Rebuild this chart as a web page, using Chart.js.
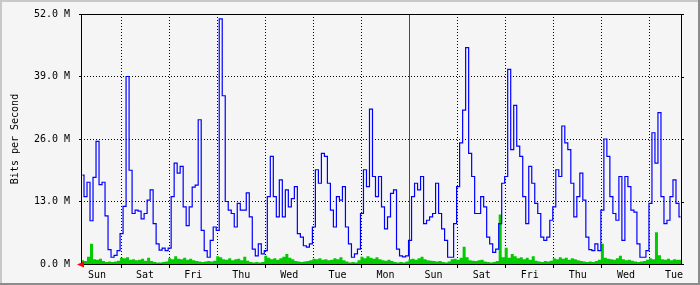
<!DOCTYPE html>
<html>
<head>
<meta charset="utf-8">
<title>Bits per Second</title>
<script src="https://cdn.jsdelivr.net/npm/chart.js@4.4.0/dist/chart.umd.min.js"></script>
<style>
  html, body { margin: 0; padding: 0; background: #f5f5f5; }
  #wrap { width: 700px; height: 285px; }
</style>
</head>
<body>
<div id="wrap"><canvas id="chart" width="700" height="285"></canvas></div>
<script>
// 30 min samples, newest on the left (mrtg weekly style), one value per 3 half-hours
const dayNames = ['Sun', 'Sat', 'Fri', 'Thu', 'Wed', 'Tue', 'Mon', 'Sun', 'Sat', 'Fri', 'Thu', 'Wed', 'Tue'];
const yTicks = [0, 13, 26, 39, 52];

// outgoing (blue), in M bits/s
const outBits = [
  18.5, 14, 17, 9, 18, 25.5, 16.5, 17, 10, 3,
  1.4, 1.8, 2.8, 6.3, 12, 39, 19.5, 10.5, 11.2, 11,
  9.4, 10.5, 13.3, 15.4, 8.4, 4.2, 2.9, 3.3, 2.8, 3.3,
  14, 21, 18.9, 20.3,
  11.9, 8, 11.9, 16, 16.4, 30, 7, 2.8, 1.4, 4.9,
  7.7, 7, 51, 35, 13, 11.2, 10.5, 7.7, 12.6, 11.2,
  11.2, 14.8, 9.8, 3.1, 1.7, 4.2, 2.1, 2.8, 14, 22.4,
  14, 9.8, 17.5,
  9.8, 15.4, 11.9, 13.6, 16.1, 6.3, 5.6, 3.8, 3.5, 4.2,
  7.7, 19.6, 16.8, 23, 22.4, 16.8, 11.2, 7.7, 14, 13.3,
  16.1, 7.7, 4.2, 1.4, 2.1, 3.1, 10.5, 19.6, 16.1, 32.2,
  18.2, 14, 18.2, 11.9,
  7.3, 9.8, 14.7, 15.4, 3.1, 1.7, 1.5, 1.7, 4.9, 14,
  16.8, 15.4, 18.2, 8.4, 9.1, 9.8, 10.5, 16.8, 10.5, 7.3,
  4.9, 1.4, 1.4, 8.4, 16.1, 25.2, 32, 45, 23, 18.2,
  10.5, 10.5, 14,
  11.9, 5.6, 4.2, 2.4, 3.1, 8.4, 16.8, 18.2, 40.5, 23.8,
  33, 24.5, 22.4, 14, 8.4, 20.3, 16.8, 12.6, 10.5, 5.6,
  4.9, 5.6, 9.1, 11.9, 19.6, 18.2, 28.7, 25.2, 23.8, 16.8,
  9.8, 14, 18.9,
  13.3, 5.6, 3, 2.8, 4.2, 2.8, 11.2, 26, 22.4, 14,
  10.5, 9.1, 18.2, 4.9, 18.2, 16.1, 11.2, 10.8, 4.2, 1.4,
  1.4, 2.8, 12.6, 27.3, 21, 31.5, 14, 8.4, 9.1, 14,
  17.5, 12.6, 9.8
];

// incoming (green), in M bits/s
const inBits = [
  2.0, 0.8, 0.6, 1.5, 4.2, 1.0, 0.9, 1.1, 0.6, 0.4,
  0.5, 0.4, 0.5, 0.7, 1.3, 1.2, 1.4, 0.9, 1.0, 0.8,
  0.9, 1.1, 0.7, 1.3, 0.6, 0.4, 0.3, 0.3, 0.4, 0.5,
  1.2, 1.0, 1.6, 1.1,
  1.0, 1.3, 0.9, 1.1, 0.8, 0.6, 0.5, 0.4, 0.5, 0.6,
  0.5, 0.7, 1.6, 1.4, 1.0, 0.9, 1.2, 0.8, 1.0, 1.1,
  0.8, 1.5, 0.7, 0.4, 0.3, 0.4, 0.3, 0.4, 1.7, 1.3,
  1.0, 1.2, 0.9,
  1.2, 1.5, 2.1, 1.3, 1.0, 0.6, 0.5, 0.4, 0.5, 0.6,
  0.8, 1.1, 1.0, 1.2, 0.9, 1.0, 0.8, 0.9, 1.2, 1.0,
  1.4, 0.8, 0.5, 0.3, 0.4, 0.3, 0.8, 1.5, 1.2, 1.6,
  1.3, 1.1, 1.4, 1.0,
  0.8, 0.7, 0.9, 0.6, 0.4, 0.3, 0.4, 0.3, 0.5, 1.0,
  1.1, 0.9, 1.2, 1.5, 1.0, 0.8, 0.7, 0.6, 0.5, 0.6,
  0.4, 0.3, 0.5, 1.0, 1.1, 0.9, 1.3, 3.6, 1.4, 0.8,
  0.7, 0.6, 0.8,
  0.9, 0.5, 0.4, 0.3, 0.4, 0.6, 10.3, 1.4, 3.4, 1.3,
  2.1, 1.6, 1.2, 1.4, 1.0, 1.3, 0.9, 1.6, 0.7, 0.5,
  0.4, 0.6, 0.5, 0.7, 1.2, 1.0, 1.4, 1.1, 1.3, 0.9,
  1.2, 1.0, 0.8,
  0.6, 0.5, 0.4, 0.5, 0.4, 0.6, 0.9, 4.2, 1.3, 1.1,
  1.0, 0.9, 1.2, 1.7, 1.0, 0.8, 0.9, 0.7, 0.5, 0.4,
  0.5, 0.6, 0.9, 1.2, 1.0, 6.6, 1.8, 1.0, 0.9, 1.1,
  0.8, 1.0, 0.9
];

const step = 3;          // half-hours per sample
const span = 600;        // half-hours on the x axis
const firstMidnight = 40;
const dayLen = 48;
const weekStart = firstMidnight + 6 * dayLen;

const midnights = [];
const noons = [];
for (let k = 0; k < dayNames.length; k++) {
  noons.push(firstMidnight - dayLen / 2 + k * dayLen);
  const m = firstMidnight + k * dayLen;
  if (m < span) midnights.push(m);
}
const xTickVals = midnights.concat(noons).sort((a, b) => a - b);
const isMidnight = v => midnights.indexOf(v) >= 0;

const font = { family: "'DejaVu Sans Mono', monospace", size: 10 };

const outPoints = outBits.map((v, i) => ({ x: i * step + step / 2, y: v }));
const inPoints = inBits.map((v, i) => ({ x: i * step, y: v }));
inPoints.push({ x: span, y: inBits[inBits.length - 1] });

const frame = {
  id: 'frame',
  beforeDraw(chart) {
    const { ctx, width, height } = chart;
    ctx.save();
    ctx.fillStyle = '#f5f5f5';
    ctx.fillRect(0, 0, width, height);
    ctx.fillStyle = '#c8c8c8';
    ctx.fillRect(0, 0, width, 2);
    ctx.fillRect(0, 0, 2, height);
    ctx.fillStyle = '#8c8c8c';
    ctx.fillRect(0, height - 2, width, 2);
    ctx.fillRect(width - 2, 0, 2, height);
    ctx.restore();
  },
  afterDatasetsDraw(chart) {
    const { ctx, chartArea: a, scales } = chart;
    ctx.save();
    ctx.strokeStyle = '#000';
    ctx.lineWidth = 1;
    ctx.strokeRect(a.left + 0.5, a.top + 0.5, a.right - a.left - 1, a.bottom - a.top);
    // little ticks on the right side
    ctx.beginPath();
    yTicks.forEach(v => {
      const y = Math.round(scales.y.getPixelForValue(v)) + 0.5;
      ctx.moveTo(a.right - 1, y);
      ctx.lineTo(a.right + 2, y);
    });
    ctx.stroke();
    // red arrow at the origin
    ctx.fillStyle = '#ff0000';
    ctx.beginPath();
    ctx.moveTo(a.left - 4, a.bottom + 0.5);
    ctx.lineTo(a.left + 3, a.bottom - 2.5);
    ctx.lineTo(a.left + 3, a.bottom + 3.5);
    ctx.closePath();
    ctx.fill();
    ctx.restore();
  }
};

new Chart(document.getElementById('chart'), {
  type: 'line',
  data: {
    datasets: [
      {
        label: 'Out',
        data: outPoints,
        borderColor: '#0000ff',
        borderWidth: 1.2,
        pointRadius: 0,
        stepped: 'middle',
        fill: false
      },
      {
        label: 'In',
        data: inPoints,
        borderColor: '#00cc00',
        backgroundColor: '#00cc00',
        borderWidth: 0,
        pointRadius: 0,
        stepped: 'after',
        fill: 'origin'
      }
    ]
  },
  options: {
    responsive: false,
    animation: false,
    layout: { padding: { left: 0, top: 14, right: 18, bottom: 0 } },
    plugins: { legend: { display: false }, tooltip: { enabled: false } },
    scales: {
      x: {
        type: 'linear',
        min: 0,
        max: span,
        afterBuildTicks: s => { s.ticks = xTickVals.map(v => ({ value: v })); },
        afterFit: s => { s.height = 21; s.paddingLeft = 0; s.paddingRight = 0; },
        grid: {
          color: c => {
            if (!c.tick) return '#000';
            if (c.tick.value === weekStart) return '#ff0000';
            return isMidnight(c.tick.value) ? '#000' : 'rgba(0,0,0,0)';
          },
          tickColor: c => (c.tick && isMidnight(c.tick.value)) ? '#000' : 'rgba(0,0,0,0)',
          tickLength: 4,
          lineWidth: 1
        },
        border: {
          display: false,
          dash: c => (c.tick && c.tick.value === weekStart) ? [] : [1, 2]
        },
        ticks: {
          autoSkip: false,
          maxRotation: 0,
          padding: 1,
          color: '#000',
          font: font,
          callback: v => {
            const k = noons.indexOf(v);
            return k >= 0 ? dayNames[k] : '';
          }
        }
      },
      y: {
        min: 0,
        max: 52,
        afterBuildTicks: s => { s.ticks = yTicks.map(v => ({ value: v })); },
        afterFit: s => { s.width = 81; s.paddingTop = 0; s.paddingBottom = 0; },
        grid: { color: '#000', lineWidth: 1, tickLength: 2, tickColor: '#000' },
        border: { display: false, dash: [1, 2] },
        ticks: {
          padding: 9,
          color: '#000',
          font: font,
          callback: v => v.toFixed(1) + ' M'
        },
        title: {
          display: true,
          text: 'Bits per Second',
          color: '#000',
          font: font,
          padding: { top: 9, bottom: 0 }
        }
      }
    }
  },
  plugins: [frame]
});
</script>
</body>
</html>
